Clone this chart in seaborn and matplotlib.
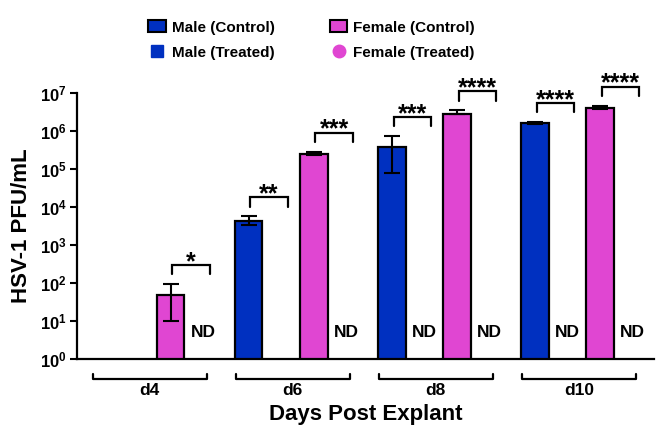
import numpy as np
import pandas as pd
import seaborn as sns
import matplotlib.pyplot as plt
from matplotlib.patches import Patch
from matplotlib.lines import Line2D
from matplotlib.ticker import NullLocator
from matplotlib.transforms import blended_transform_factory

# values (PFU/mL), NaN = not plotted
days = ['d4', 'd6', 'd8', 'd10']
male_ctrl = [np.nan, 4400, 3.9e5, 1.6e6]
male_ctrl_lo = [np.nan, 3400, 8.0e4, 1.55e6]
male_ctrl_hi = [np.nan, 5800, 7.5e5, 1.75e6]
female_ctrl = [50, 2.5e5, 2.9e6, 4.0e6]
female_ctrl_lo = [10, 2.3e5, 2.8e6, 3.9e6]
female_ctrl_hi = [95, 2.9e5, 3.5e6, 4.7e6]
male_treated_nd = [False, False, True, True]
female_treated_nd = [True, True, True, True]
male_sig = [None, '**', '***', '****']
female_sig = ['*', '***', '****', '****']
ytick_labels = [r'$\mathbf{10^{%d}}$' % i for i in range(8)]

series_names = ['Male (Control)', 'Female (Control)', 'Male (Treated)', 'Female (Treated)']
blue = '#0030C0'
pink = '#E046D2'

sns.set_style('ticks')
plt.rcParams['font.family'] = ['Liberation Sans', 'DejaVu Sans']
plt.rcParams['font.weight'] = 'bold'
plt.rcParams['mathtext.fontset'] = 'custom'
plt.rcParams['mathtext.rm'] = 'Liberation Sans'
plt.rcParams['mathtext.bf'] = 'Liberation Sans:bold'
for key in ['text.color', 'axes.labelcolor', 'axes.edgecolor', 'xtick.color', 'ytick.color']:
    plt.rcParams[key] = 'black'

# slot layout: each day has 4 slots (M ctrl, M treated, F ctrl, F treated)
group_step = 4.4
rows = []
for g, d in enumerate(days):
    base = g * group_step
    rows.append(dict(day=d, pos=base, series='Male (Control)', value=male_ctrl[g],
                     lo=male_ctrl_lo[g], hi=male_ctrl_hi[g]))
    rows.append(dict(day=d, pos=base + 2, series='Female (Control)', value=female_ctrl[g],
                     lo=female_ctrl_lo[g], hi=female_ctrl_hi[g]))
df = pd.DataFrame(rows).dropna(subset=['value'])

fig = plt.figure(figsize=(6.56, 4.29), dpi=100)
ax = fig.add_axes([0.117, 0.163, 0.88, 0.62])

bar_w = 0.84
native = np.min(np.diff(np.unique(df['pos'])))
sns.barplot(data=df, x='pos', y='value', hue='series', native_scale=True,
            log_scale=(False, True), dodge=False, width=bar_w / native,
            palette={'Male (Control)': blue, 'Female (Control)': pink},
            saturation=1, errorbar=None, edgecolor='black', linewidth=1.6,
            legend=False, ax=ax)

ax.errorbar(df['pos'], df['value'],
            yerr=[df['value'] - df['lo'], df['hi'] - df['value']],
            fmt='none', ecolor='black', elinewidth=1.5, capsize=6, capthick=1.5, zorder=5)

ax.set_yscale('log')
ax.set_ylim(1, 1e7)
ax.set_xlim(-0.89, 16.86)
ax.set_yticks([10 ** i for i in range(8)])
ax.set_yticklabels(ytick_labels)
ax.yaxis.set_minor_locator(NullLocator())
ax.set_xticks([])
ax.tick_params(axis='y', labelsize=12, length=5, width=1.5, pad=2)
for s in ['left', 'bottom']:
    ax.spines[s].set_linewidth(1.6)
sns.despine(ax=ax)

# ND labels and significance brackets
nd_kw = dict(ha='center', va='center', fontsize=12.5, fontweight='bold')
for g in range(len(days)):
    base = g * group_step
    if male_treated_nd[g]:
        ax.text(base + 1, 5, 'ND', **nd_kw)
    if female_treated_nd[g]:
        ax.text(base + 3, 5, 'ND', **nd_kw)
    for off, sig, hi in [(0, male_sig[g], male_ctrl_hi[g]), (2, female_sig[g], female_ctrl_hi[g])]:
        if sig is None:
            continue
        top = hi * 10 ** 0.5
        tip = top / 10 ** 0.25
        x0, x1 = base + off + 0.05, base + off + 1.2
        ax.plot([x0, x0, x1, x1], [tip, top, top, tip], color='black', lw=1.6,
                clip_on=False, solid_joinstyle='miter')
        ax.annotate(sig, xy=((x0 + x1) / 2, top), xytext=(0, -3), textcoords='offset points',
                    ha='center', va='baseline', fontsize=18, fontweight='bold',
                    annotation_clip=False)

# day group brackets under the axis
tr = blended_transform_factory(ax.transData, ax.transAxes)
for g, d in enumerate(days):
    x0, x1 = g * group_step - 0.4, g * group_step + 3.1
    ax.plot([x0, x0, x1, x1], [-0.056, -0.075, -0.075, -0.056], transform=tr,
            color='black', lw=1.6, clip_on=False)
    ax.text((x0 + x1) / 2, -0.117, d, transform=tr, ha='center', va='center',
            fontsize=12.5, fontweight='bold')

ax.set_xlabel('Days Post Explant', fontsize=16, fontweight='bold')
ax.xaxis.set_label_coords(0.5, -0.17)
ax.set_ylabel('HSV-1 PFU/mL', fontsize=16, fontweight='bold')
ax.yaxis.set_label_coords(-0.077, 0.5)

handles = [Patch(facecolor=blue, edgecolor='black', linewidth=1.5),
           Line2D([], [], marker='s', color=blue, linestyle='none', markersize=8),
           Patch(facecolor=pink, edgecolor='black', linewidth=1.5),
           Line2D([], [], marker='o', color=pink, linestyle='none', markersize=9)]
labels = [series_names[0], series_names[2], series_names[1], series_names[3]]
fig.legend(handles, labels, ncol=2, loc='upper left', bbox_to_anchor=(0.205, 0.985),
           frameon=False, handlelength=1.15, handleheight=0.85, handletextpad=0.4,
           columnspacing=3.6, labelspacing=0.72,
           prop=dict(family='Liberation Sans', weight='bold', size=11))

fig.savefig('out.png', dpi=100)
